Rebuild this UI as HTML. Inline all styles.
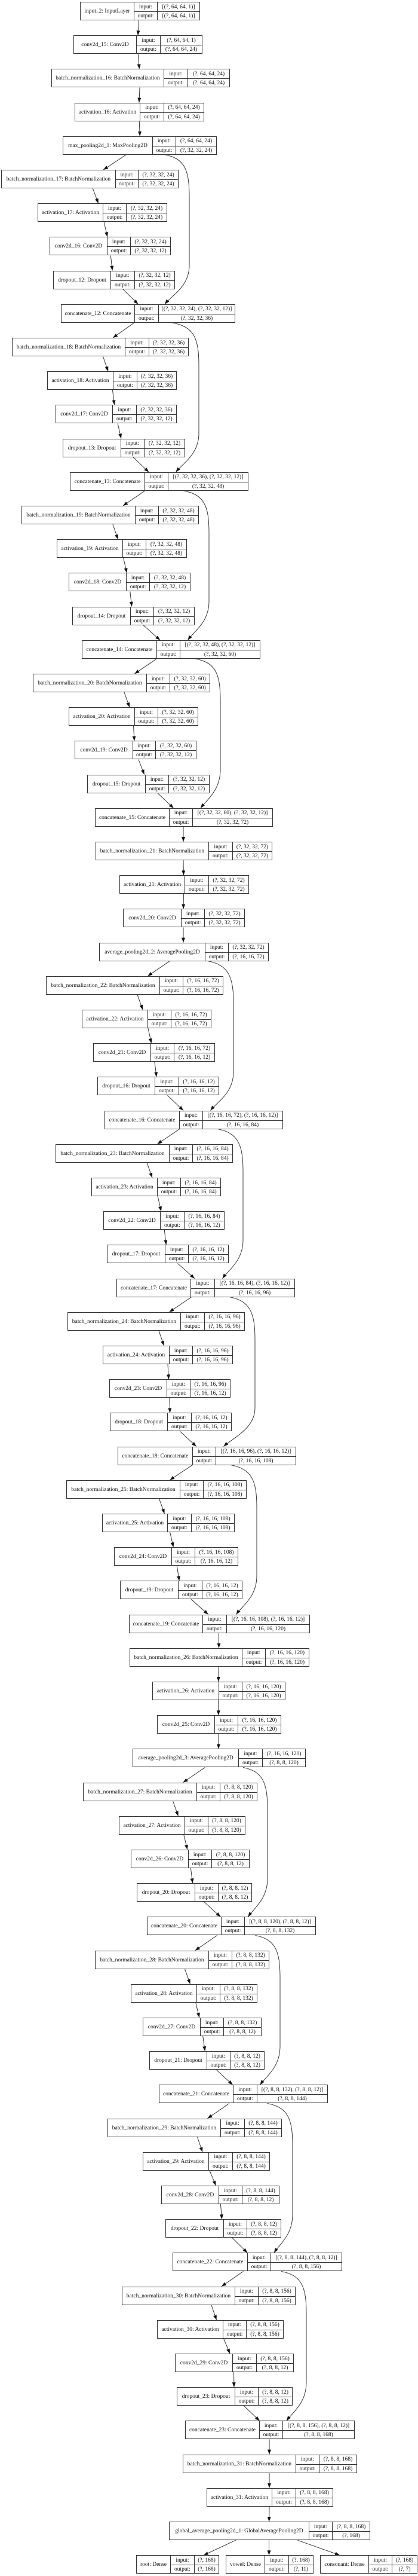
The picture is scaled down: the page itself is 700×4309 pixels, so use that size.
<!DOCTYPE html>
<html><head><meta charset="utf-8"><style>
html,body{margin:0;padding:0;background:#fff;}
body{width:700px;height:4309px;position:relative;overflow:hidden;}
.n{position:absolute;height:31px;display:grid;grid-template-rows:15px 15px;border:1px solid #333;box-sizing:border-box;font:9.5px "Liberation Serif",serif;color:#111;background:#fff;}
.n>*{display:flex;align-items:center;justify-content:center;white-space:nowrap;font-style:normal;font-weight:normal;text-decoration:none;overflow:visible;}
.n>i{grid-row:1/3;}
.n>b,.n>s{border-left:1px solid #333;}
.n>.o{border-top:1px solid #333;}
svg{position:absolute;left:0;top:0;}
</style></head><body>
<svg width="700" height="4309" viewBox="0 0 700 4309">
<defs><marker id="a" markerWidth="8" markerHeight="6" refX="8" refY="3" orient="auto" markerUnits="userSpaceOnUse"><path d="M0,0L8,3L0,6z" fill="#111"/></marker></defs>
<g stroke="#222" stroke-width="0.9" fill="none" marker-end="url(#a)">
<path d="M232.5,34L231,59.2"/>
<path d="M231.2,90.2L233.3,115.4"/>
<path d="M234,146.4L233,171.6"/>
<path d="M233.2,202.6L234.3,227.8"/>
<path d="M211.4,258.8L173.1,284"/>
<path d="M155.3,315L164.7,340.2"/>
<path d="M174.1,371.2L179.9,396.4"/>
<path d="M185.3,427.4L188.2,452.6"/>
<path d="M205.7,483.6L231.3,508.8"/>
<path d="M224.9,539.8L189.1,565"/>
<path d="M172.4,596L181.1,621.2"/>
<path d="M188.4,652.2L191.6,677.4"/>
<path d="M197.1,708.4L202.9,733.6"/>
<path d="M222.8,764.6L249.2,789.8"/>
<path d="M242.9,820.8L206.1,846"/>
<path d="M188.9,877L197.6,902.2"/>
<path d="M206.6,933.2L212.4,958.4"/>
<path d="M217.8,989.4L220.7,1014.6"/>
<path d="M239.9,1045.6L268.1,1070.8"/>
<path d="M262.6,1101.8L225.4,1127"/>
<path d="M208,1158L217,1183.2"/>
<path d="M223.5,1214.2L225,1239.4"/>
<path d="M231.9,1270.4L241.6,1295.6"/>
<path d="M263.9,1326.6L290.6,1351.8"/>
<path d="M307,1382.8L307,1408"/>
<path d="M307,1439L307.4,1464.2"/>
<path d="M307.4,1495.2L307.1,1520.4"/>
<path d="M307,1551.4L307,1576.6"/>
<path d="M284.2,1607.6L247.3,1632.8"/>
<path d="M230,1663.8L239,1689"/>
<path d="M248,1720L253.5,1745.2"/>
<path d="M258.9,1776.2L262.1,1801.4"/>
<path d="M280.4,1832.4L307.1,1857.6"/>
<path d="M300.6,1888.6L263.4,1913.8"/>
<path d="M246,1944.8L255,1970"/>
<path d="M264.1,2001L269.9,2026.2"/>
<path d="M275.3,2057.2L278.2,2082.4"/>
<path d="M297.5,2113.4L326,2138.6"/>
<path d="M320.6,2169.6L283.4,2194.8"/>
<path d="M265.9,2225.8L274.6,2251"/>
<path d="M281,2282L282.5,2307.2"/>
<path d="M283.9,2338.2L284.6,2363.4"/>
<path d="M301.7,2394.4L328.8,2419.6"/>
<path d="M322.2,2450.6L284.3,2475.8"/>
<path d="M266.5,2506.8L275.5,2532"/>
<path d="M284.6,2563L290.4,2588.2"/>
<path d="M296.3,2619.2L300.2,2644.4"/>
<path d="M320.2,2675.4L348.8,2700.6"/>
<path d="M366.5,2731.6L366.5,2756.8"/>
<path d="M366.2,2787.8L365.8,2813"/>
<path d="M365.6,2844L365.9,2869.2"/>
<path d="M366,2900.2L366,2925.4"/>
<path d="M343.4,2956.4L306.6,2981.6"/>
<path d="M289.5,3012.6L298.5,3037.8"/>
<path d="M307.7,3068.8L313.8,3094"/>
<path d="M319.4,3125L322.6,3150.2"/>
<path d="M341.6,3181.2L369.4,3206.4"/>
<path d="M363.7,3237.4L326.8,3262.6"/>
<path d="M309.5,3293.6L318.5,3318.8"/>
<path d="M327.7,3349.8L333.8,3375"/>
<path d="M339.7,3406L343.3,3431.2"/>
<path d="M362.3,3462.2L389.7,3487.4"/>
<path d="M384,3518.4L347.5,3543.6"/>
<path d="M330.4,3574.6L339.1,3599.8"/>
<path d="M351,3630.8L361.5,3656"/>
<path d="M369.4,3687L371.6,3712.2"/>
<path d="M388.7,3743.2L414.3,3768.4"/>
<path d="M407.5,3799.4L371,3824.6"/>
<path d="M353.9,3855.6L362.6,3880.8"/>
<path d="M374.5,3911.8L385,3937"/>
<path d="M391.6,3968L391.9,3993.2"/>
<path d="M408.3,4024.2L434.7,4049.4"/>
<path d="M451,4080.4L451,4105.6"/>
<path d="M451,4136.6L451,4161.8"/>
<path d="M451,4192.8L450.6,4218"/>
<path d="M395,4249L341,4274.2"/>
<path d="M450.5,4249L450.5,4274.2"/>
<path d="M498,4249L569,4274.2"/>
<!-- skip connections -->
<path d="M276,258.8C309,265 317,284 317,329L317,444C317,479 288,494 276,508.8"/>
<path d="M288,539.8C324,546 333,565 333,610L333,725C333,760 306,775 294.5,789.8"/>
<path d="M306.5,820.8C342,827 350,846 350,891L350,1006C350,1041 325,1056 314.5,1070.8"/>
<path d="M326.5,1101.8C361,1108 369,1127 369,1172L369,1287C369,1322 347,1337 336,1351.8"/>
<path d="M348,1607.6C382,1614 391,1633 391,1678L391,1793C391,1828 364,1843 352.5,1857.6"/>
<path d="M364.5,1888.6C398,1895 407,1914 407,1959L407,2074C407,2109 383,2124 372.5,2138.6"/>
<path d="M384.5,2169.6C418,2176 427,2195 427,2240L427,2355C427,2390 390,2405 374.5,2419.6"/>
<path d="M386.5,2450.6C421,2457 430,2476 430,2521L430,2636C430,2671 406,2686 395.5,2700.6"/>
<path d="M407,2956.4C440,2963 448,2982 448,3027L448,3142C448,3177 425,3192 415.5,3206.4"/>
<path d="M427.5,3237.4C461,3244 469,3263 469,3308L469,3423C469,3458 446,3473 435.5,3487.4"/>
<path d="M447.5,3518.4C482,3525 490,3544 490,3589L490,3704C490,3739 468,3754 459,3768.4"/>
<path d="M471,3799.4C505,3806 513,3825 513,3870L513,3985C513,4020 490,4035 480,4049.4"/>
</g>
</svg>

<div class="n" style="left:134px;top:3px;grid-template-columns:89px 39px 71px"><i>input_2: InputLayer</i><b>input:</b><s>[(?, 64, 64, 1)]</s><b class="o">output:</b><s class="o">[(?, 64, 64, 1)]</s></div>
<div class="n" style="left:123px;top:59.2px;grid-template-columns:104px 40px 70px"><i>conv2d_15: Conv2D</i><b>input:</b><s>(?, 64, 64, 1)</s><b class="o">output:</b><s class="o">(?, 64, 64, 24)</s></div>
<div class="n" style="left:86px;top:115.4px;grid-template-columns:187px 40px 70px"><i>batch_normalization_16: BatchNormalization</i><b>input:</b><s>(?, 64, 64, 24)</s><b class="o">output:</b><s class="o">(?, 64, 64, 24)</s></div>
<div class="n" style="left:125px;top:171.6px;grid-template-columns:108px 40px 67px"><i>activation_16: Activation</i><b>input:</b><s>(?, 64, 64, 24)</s><b class="o">output:</b><s class="o">(?, 64, 64, 24)</s></div>
<div class="n" style="left:105px;top:227.8px;grid-template-columns:149px 39px 68px"><i>max_pooling2d_1: MaxPooling2D</i><b>input:</b><s>(?, 64, 64, 24)</s><b class="o">output:</b><s class="o">(?, 32, 32, 24)</s></div>

<div class="n" style="left:2px;top:284px;grid-template-columns:190px 38px 67px"><i>batch_normalization_17: BatchNormalization</i><b>input:</b><s>(?, 32, 32, 24)</s><b class="o">output:</b><s class="o">(?, 32, 32, 24)</s></div>
<div class="n" style="left:63px;top:340.2px;grid-template-columns:108px 39px 68px"><i>activation_17: Activation</i><b>input:</b><s>(?, 32, 32, 24)</s><b class="o">output:</b><s class="o">(?, 32, 32, 24)</s></div>
<div class="n" style="left:83px;top:396.4px;grid-template-columns:95px 39px 67px"><i>conv2d_16: Conv2D</i><b>input:</b><s>(?, 32, 32, 24)</s><b class="o">output:</b><s class="o">(?, 32, 32, 12)</s></div>
<div class="n" style="left:89px;top:452.6px;grid-template-columns:95px 40px 67px"><i>dropout_12: Dropout</i><b>input:</b><s>(?, 32, 32, 12)</s><b class="o">output:</b><s class="o">(?, 32, 32, 12)</s></div>
<div class="n" style="left:102px;top:508.8px;grid-template-columns:122px 40px 128px"><i>concatenate_12: Concatenate</i><b>input:</b><s>[(?, 32, 32, 24), (?, 32, 32, 12)]</s><b class="o">output:</b><s class="o">(?, 32, 32, 36)</s></div>

<div class="n" style="left:20px;top:565px;grid-template-columns:188px 40px 66px"><i>batch_normalization_18: BatchNormalization</i><b>input:</b><s>(?, 32, 32, 36)</s><b class="o">output:</b><s class="o">(?, 32, 32, 36)</s></div>
<div class="n" style="left:79px;top:621.2px;grid-template-columns:109px 40px 66px"><i>activation_18: Activation</i><b>input:</b><s>(?, 32, 32, 36)</s><b class="o">output:</b><s class="o">(?, 32, 32, 36)</s></div>
<div class="n" style="left:93px;top:677.4px;grid-template-columns:94px 40px 67px"><i>conv2d_17: Conv2D</i><b>input:</b><s>(?, 32, 32, 36)</s><b class="o">output:</b><s class="o">(?, 32, 32, 12)</s></div>
<div class="n" style="left:105px;top:733.6px;grid-template-columns:96px 39px 68px"><i>dropout_13: Dropout</i><b>input:</b><s>(?, 32, 32, 12)</s><b class="o">output:</b><s class="o">(?, 32, 32, 12)</s></div>
<div class="n" style="left:117px;top:789.8px;grid-template-columns:124px 39px 134px"><i>concatenate_13: Concatenate</i><b>input:</b><s>[(?, 32, 32, 36), (?, 32, 32, 12)]</s><b class="o">output:</b><s class="o">(?, 32, 32, 48)</s></div>

<div class="n" style="left:36px;top:846px;grid-template-columns:189px 39px 67px"><i>batch_normalization_19: BatchNormalization</i><b>input:</b><s>(?, 32, 32, 48)</s><b class="o">output:</b><s class="o">(?, 32, 32, 48)</s></div>
<div class="n" style="left:95px;top:902.2px;grid-template-columns:109px 39px 68px"><i>activation_19: Activation</i><b>input:</b><s>(?, 32, 32, 48)</s><b class="o">output:</b><s class="o">(?, 32, 32, 48)</s></div>
<div class="n" style="left:115px;top:958.4px;grid-template-columns:95px 39px 68px"><i>conv2d_18: Conv2D</i><b>input:</b><s>(?, 32, 32, 48)</s><b class="o">output:</b><s class="o">(?, 32, 32, 12)</s></div>
<div class="n" style="left:121px;top:1014.6px;grid-template-columns:96px 39px 68px"><i>dropout_14: Dropout</i><b>input:</b><s>(?, 32, 32, 12)</s><b class="o">output:</b><s class="o">(?, 32, 32, 12)</s></div>
<div class="n" style="left:137px;top:1070.8px;grid-template-columns:124px 39px 134px"><i>concatenate_14: Concatenate</i><b>input:</b><s>[(?, 32, 32, 48), (?, 32, 32, 12)]</s><b class="o">output:</b><s class="o">(?, 32, 32, 60)</s></div>

<div class="n" style="left:55px;top:1127px;grid-template-columns:189px 39px 67px"><i>batch_normalization_20: BatchNormalization</i><b>input:</b><s>(?, 32, 32, 60)</s><b class="o">output:</b><s class="o">(?, 32, 32, 60)</s></div>
<div class="n" style="left:115px;top:1183.2px;grid-template-columns:109px 39px 67px"><i>activation_20: Activation</i><b>input:</b><s>(?, 32, 32, 60)</s><b class="o">output:</b><s class="o">(?, 32, 32, 60)</s></div>
<div class="n" style="left:125px;top:1239.4px;grid-template-columns:96px 38px 68px"><i>conv2d_19: Conv2D</i><b>input:</b><s>(?, 32, 32, 60)</s><b class="o">output:</b><s class="o">(?, 32, 32, 12)</s></div>
<div class="n" style="left:146px;top:1295.6px;grid-template-columns:96px 39px 68px"><i>dropout_15: Dropout</i><b>input:</b><s>(?, 32, 32, 12)</s><b class="o">output:</b><s class="o">(?, 32, 32, 12)</s></div>
<div class="n" style="left:159px;top:1351.8px;grid-template-columns:123px 39px 134px"><i>concatenate_15: Concatenate</i><b>input:</b><s>[(?, 32, 32, 60), (?, 32, 32, 12)]</s><b class="o">output:</b><s class="o">(?, 32, 32, 72)</s></div>

<div class="n" style="left:160px;top:1408px;grid-template-columns:188px 40px 66px"><i>batch_normalization_21: BatchNormalization</i><b>input:</b><s>(?, 32, 32, 72)</s><b class="o">output:</b><s class="o">(?, 32, 32, 72)</s></div>
<div class="n" style="left:200px;top:1464.2px;grid-template-columns:108px 40px 67px"><i>activation_21: Activation</i><b>input:</b><s>(?, 32, 32, 72)</s><b class="o">output:</b><s class="o">(?, 32, 32, 72)</s></div>
<div class="n" style="left:206px;top:1520.4px;grid-template-columns:96px 39px 67px"><i>conv2d_20: Conv2D</i><b>input:</b><s>(?, 32, 32, 72)</s><b class="o">output:</b><s class="o">(?, 32, 32, 72)</s></div>
<div class="n" style="left:166px;top:1576.6px;grid-template-columns:176px 39px 67px"><i>average_pooling2d_2: AveragePooling2D</i><b>input:</b><s>(?, 32, 32, 72)</s><b class="o">output:</b><s class="o">(?, 16, 16, 72)</s></div>

<div class="n" style="left:77px;top:1632.8px;grid-template-columns:189px 39px 67px"><i>batch_normalization_22: BatchNormalization</i><b>input:</b><s>(?, 16, 16, 72)</s><b class="o">output:</b><s class="o">(?, 16, 16, 72)</s></div>
<div class="n" style="left:137px;top:1689px;grid-template-columns:109px 39px 67px"><i>activation_22: Activation</i><b>input:</b><s>(?, 16, 16, 72)</s><b class="o">output:</b><s class="o">(?, 16, 16, 72)</s></div>
<div class="n" style="left:156px;top:1745.2px;grid-template-columns:95px 39px 68px"><i>conv2d_21: Conv2D</i><b>input:</b><s>(?, 16, 16, 72)</s><b class="o">output:</b><s class="o">(?, 16, 16, 12)</s></div>
<div class="n" style="left:163px;top:1801.4px;grid-template-columns:95px 40px 67px"><i>dropout_16: Dropout</i><b>input:</b><s>(?, 16, 16, 12)</s><b class="o">output:</b><s class="o">(?, 16, 16, 12)</s></div>
<div class="n" style="left:175px;top:1857.6px;grid-template-columns:124px 39px 134px"><i>concatenate_16: Concatenate</i><b>input:</b><s>[(?, 16, 16, 72), (?, 16, 16, 12)]</s><b class="o">output:</b><s class="o">(?, 16, 16, 84)</s></div>

<div class="n" style="left:93px;top:1913.8px;grid-template-columns:189px 39px 67px"><i>batch_normalization_23: BatchNormalization</i><b>input:</b><s>(?, 16, 16, 84)</s><b class="o">output:</b><s class="o">(?, 16, 16, 84)</s></div>
<div class="n" style="left:153px;top:1970px;grid-template-columns:109px 39px 67px"><i>activation_23: Activation</i><b>input:</b><s>(?, 16, 16, 84)</s><b class="o">output:</b><s class="o">(?, 16, 16, 84)</s></div>
<div class="n" style="left:173px;top:2026.2px;grid-template-columns:94px 40px 67px"><i>conv2d_22: Conv2D</i><b>input:</b><s>(?, 16, 16, 84)</s><b class="o">output:</b><s class="o">(?, 16, 16, 12)</s></div>
<div class="n" style="left:179px;top:2082.4px;grid-template-columns:96px 39px 67px"><i>dropout_17: Dropout</i><b>input:</b><s>(?, 16, 16, 12)</s><b class="o">output:</b><s class="o">(?, 16, 16, 12)</s></div>
<div class="n" style="left:195px;top:2138.6px;grid-template-columns:123px 40px 134px"><i>concatenate_17: Concatenate</i><b>input:</b><s>[(?, 16, 16, 84), (?, 16, 16, 12)]</s><b class="o">output:</b><s class="o">(?, 16, 16, 96)</s></div>

<div class="n" style="left:113px;top:2194.8px;grid-template-columns:188px 40px 67px"><i>batch_normalization_24: BatchNormalization</i><b>input:</b><s>(?, 16, 16, 96)</s><b class="o">output:</b><s class="o">(?, 16, 16, 96)</s></div>
<div class="n" style="left:172px;top:2251px;grid-template-columns:110px 39px 67px"><i>activation_24: Activation</i><b>input:</b><s>(?, 16, 16, 96)</s><b class="o">output:</b><s class="o">(?, 16, 16, 96)</s></div>
<div class="n" style="left:183px;top:2307.2px;grid-template-columns:95px 39px 67px"><i>conv2d_23: Conv2D</i><b>input:</b><s>(?, 16, 16, 96)</s><b class="o">output:</b><s class="o">(?, 16, 16, 12)</s></div>
<div class="n" style="left:184px;top:2363.4px;grid-template-columns:95px 40px 67px"><i>dropout_18: Dropout</i><b>input:</b><s>(?, 16, 16, 12)</s><b class="o">output:</b><s class="o">(?, 16, 16, 12)</s></div>
<div class="n" style="left:197px;top:2419.6px;grid-template-columns:124px 39px 134px"><i>concatenate_18: Concatenate</i><b>input:</b><s>[(?, 16, 16, 96), (?, 16, 16, 12)]</s><b class="o">output:</b><s class="o">(?, 16, 16, 108)</s></div>

<div class="n" style="left:111px;top:2475.8px;grid-template-columns:189px 39px 72px"><i>batch_normalization_25: BatchNormalization</i><b>input:</b><s>(?, 16, 16, 108)</s><b class="o">output:</b><s class="o">(?, 16, 16, 108)</s></div>
<div class="n" style="left:171px;top:2532px;grid-template-columns:108px 40px 72px"><i>activation_25: Activation</i><b>input:</b><s>(?, 16, 16, 108)</s><b class="o">output:</b><s class="o">(?, 16, 16, 108)</s></div>
<div class="n" style="left:191px;top:2588.2px;grid-template-columns:95px 39px 72px"><i>conv2d_24: Conv2D</i><b>input:</b><s>(?, 16, 16, 108)</s><b class="o">output:</b><s class="o">(?, 16, 16, 12)</s></div>
<div class="n" style="left:201px;top:2644.4px;grid-template-columns:96px 40px 67px"><i>dropout_19: Dropout</i><b>input:</b><s>(?, 16, 16, 12)</s><b class="o">output:</b><s class="o">(?, 16, 16, 12)</s></div>
<div class="n" style="left:216px;top:2700.6px;grid-template-columns:122px 40px 139px"><i>concatenate_19: Concatenate</i><b>input:</b><s>[(?, 16, 16, 108), (?, 16, 16, 12)]</s><b class="o">output:</b><s class="o">(?, 16, 16, 120)</s></div>

<div class="n" style="left:217px;top:2756.8px;grid-template-columns:187px 39px 73px"><i>batch_normalization_26: BatchNormalization</i><b>input:</b><s>(?, 16, 16, 120)</s><b class="o">output:</b><s class="o">(?, 16, 16, 120)</s></div>
<div class="n" style="left:255px;top:2813px;grid-template-columns:110px 39px 72px"><i>activation_26: Activation</i><b>input:</b><s>(?, 16, 16, 120)</s><b class="o">output:</b><s class="o">(?, 16, 16, 120)</s></div>
<div class="n" style="left:263px;top:2869.2px;grid-template-columns:95px 39px 72px"><i>conv2d_25: Conv2D</i><b>input:</b><s>(?, 16, 16, 120)</s><b class="o">output:</b><s class="o">(?, 16, 16, 120)</s></div>
<div class="n" style="left:222px;top:2925.4px;grid-template-columns:176px 40px 72px"><i>average_pooling2d_3: AveragePooling2D</i><b>input:</b><s>(?, 16, 16, 120)</s><b class="o">output:</b><s class="o">(?, 8, 8, 120)</s></div>

<div class="n" style="left:139px;top:2981.6px;grid-template-columns:189px 39px 62px"><i>batch_normalization_27: BatchNormalization</i><b>input:</b><s>(?, 8, 8, 120)</s><b class="o">output:</b><s class="o">(?, 8, 8, 120)</s></div>
<div class="n" style="left:199px;top:3037.8px;grid-template-columns:109px 39px 62px"><i>activation_27: Activation</i><b>input:</b><s>(?, 8, 8, 120)</s><b class="o">output:</b><s class="o">(?, 8, 8, 120)</s></div>
<div class="n" style="left:219px;top:3094px;grid-template-columns:95px 39px 63px"><i>conv2d_26: Conv2D</i><b>input:</b><s>(?, 8, 8, 120)</s><b class="o">output:</b><s class="o">(?, 8, 8, 12)</s></div>
<div class="n" style="left:229px;top:3150.2px;grid-template-columns:96px 39px 56px"><i>dropout_20: Dropout</i><b>input:</b><s>(?, 8, 8, 12)</s><b class="o">output:</b><s class="o">(?, 8, 8, 12)</s></div>
<div class="n" style="left:246px;top:3206.4px;grid-template-columns:123px 39px 119px"><i>concatenate_20: Concatenate</i><b>input:</b><s>[(?, 8, 8, 120), (?, 8, 8, 12)]</s><b class="o">output:</b><s class="o">(?, 8, 8, 132)</s></div>

<div class="n" style="left:159px;top:3262.6px;grid-template-columns:189px 39px 62px"><i>batch_normalization_28: BatchNormalization</i><b>input:</b><s>(?, 8, 8, 132)</s><b class="o">output:</b><s class="o">(?, 8, 8, 132)</s></div>
<div class="n" style="left:219px;top:3318.8px;grid-template-columns:109px 39px 62px"><i>activation_28: Activation</i><b>input:</b><s>(?, 8, 8, 132)</s><b class="o">output:</b><s class="o">(?, 8, 8, 132)</s></div>
<div class="n" style="left:239px;top:3375px;grid-template-columns:95px 39px 63px"><i>conv2d_27: Conv2D</i><b>input:</b><s>(?, 8, 8, 132)</s><b class="o">output:</b><s class="o">(?, 8, 8, 12)</s></div>
<div class="n" style="left:250px;top:3431.2px;grid-template-columns:95px 39px 57px"><i>dropout_21: Dropout</i><b>input:</b><s>(?, 8, 8, 12)</s><b class="o">output:</b><s class="o">(?, 8, 8, 12)</s></div>
<div class="n" style="left:266px;top:3487.4px;grid-template-columns:123px 40px 118px"><i>concatenate_21: Concatenate</i><b>input:</b><s>[(?, 8, 8, 132), (?, 8, 8, 12)]</s><b class="o">output:</b><s class="o">(?, 8, 8, 144)</s></div>

<div class="n" style="left:180px;top:3543.6px;grid-template-columns:188px 40px 62px"><i>batch_normalization_29: BatchNormalization</i><b>input:</b><s>(?, 8, 8, 144)</s><b class="o">output:</b><s class="o">(?, 8, 8, 144)</s></div>
<div class="n" style="left:239px;top:3599.8px;grid-template-columns:109px 40px 62px"><i>activation_29: Activation</i><b>input:</b><s>(?, 8, 8, 144)</s><b class="o">output:</b><s class="o">(?, 8, 8, 144)</s></div>
<div class="n" style="left:270px;top:3656px;grid-template-columns:95px 39px 62px"><i>conv2d_28: Conv2D</i><b>input:</b><s>(?, 8, 8, 144)</s><b class="o">output:</b><s class="o">(?, 8, 8, 12)</s></div>
<div class="n" style="left:277px;top:3712.2px;grid-template-columns:96px 39px 57px"><i>dropout_22: Dropout</i><b>input:</b><s>(?, 8, 8, 12)</s><b class="o">output:</b><s class="o">(?, 8, 8, 12)</s></div>
<div class="n" style="left:289px;top:3768.4px;grid-template-columns:124px 39px 119px"><i>concatenate_22: Concatenate</i><b>input:</b><s>[(?, 8, 8, 144), (?, 8, 8, 12)]</s><b class="o">output:</b><s class="o">(?, 8, 8, 156)</s></div>

<div class="n" style="left:204px;top:3824.6px;grid-template-columns:188px 39px 62px"><i>batch_normalization_30: BatchNormalization</i><b>input:</b><s>(?, 8, 8, 156)</s><b class="o">output:</b><s class="o">(?, 8, 8, 156)</s></div>
<div class="n" style="left:263px;top:3880.8px;grid-template-columns:109px 39px 62px"><i>activation_30: Activation</i><b>input:</b><s>(?, 8, 8, 156)</s><b class="o">output:</b><s class="o">(?, 8, 8, 156)</s></div>
<div class="n" style="left:293px;top:3937px;grid-template-columns:95px 40px 62px"><i>conv2d_29: Conv2D</i><b>input:</b><s>(?, 8, 8, 156)</s><b class="o">output:</b><s class="o">(?, 8, 8, 12)</s></div>
<div class="n" style="left:296px;top:3993.2px;grid-template-columns:96px 39px 57px"><i>dropout_23: Dropout</i><b>input:</b><s>(?, 8, 8, 12)</s><b class="o">output:</b><s class="o">(?, 8, 8, 12)</s></div>
<div class="n" style="left:310px;top:4049.4px;grid-template-columns:123px 39px 120px"><i>concatenate_23: Concatenate</i><b>input:</b><s>[(?, 8, 8, 156), (?, 8, 8, 12)]</s><b class="o">output:</b><s class="o">(?, 8, 8, 168)</s></div>

<div class="n" style="left:306px;top:4105.6px;grid-template-columns:188px 39px 63px"><i>batch_normalization_31: BatchNormalization</i><b>input:</b><s>(?, 8, 8, 168)</s><b class="o">output:</b><s class="o">(?, 8, 8, 168)</s></div>
<div class="n" style="left:346px;top:4161.8px;grid-template-columns:108px 40px 62px"><i>activation_31: Activation</i><b>input:</b><s>(?, 8, 8, 168)</s><b class="o">output:</b><s class="o">(?, 8, 8, 168)</s></div>
<div class="n" style="left:283px;top:4218px;grid-template-columns:233px 39px 63px"><i>global_average_pooling2d_1: GlobalAveragePooling2D</i><b>input:</b><s>(?, 8, 8, 168)</s><b class="o">output:</b><s class="o">(?, 168)</s></div>

<div class="n" style="left:228px;top:4274.2px;grid-template-columns:56px 40px 41px"><i>root: Dense</i><b>input:</b><s>(?, 168)</s><b class="o">output:</b><s class="o">(?, 168)</s></div>
<div class="n" style="left:378px;top:4274.2px;grid-template-columns:64px 40px 41px"><i>vowel: Dense</i><b>input:</b><s>(?, 168)</s><b class="o">output:</b><s class="o">(?, 11)</s></div>
<div class="n" style="left:536px;top:4274.2px;grid-template-columns:80px 39px 42px"><i>consonant: Dense</i><b>input:</b><s>(?, 168)</s><b class="o">output:</b><s class="o">(?, 7)</s></div>
</body></html>
